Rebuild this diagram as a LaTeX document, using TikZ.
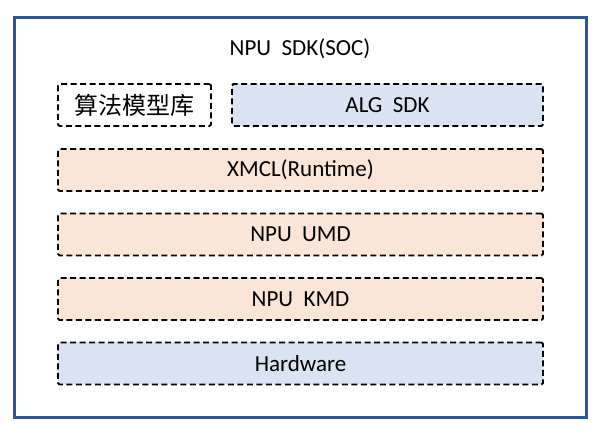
\documentclass[tikz,border=0pt]{standalone}
\usepackage{fontspec}
\setmainfont{Carlito}
\newfontfamily\cjk{Noto Sans CJK SC}
\usetikzlibrary{positioning}

\definecolor{layerblue}{HTML}{DAE3F3}
\definecolor{layerorange}{HTML}{FBE5D6}
\definecolor{frameblue}{HTML}{2F5597}

\begin{document}
\begin{tikzpicture}[x=1pt,y=-1pt,
  layer/.style={draw,dashed,dash pattern=on 6pt off 3.5pt,line width=1.8pt,rounded corners=1.5pt,
    minimum height=42pt,inner sep=0pt,font=\fontsize{23}{27}\selectfont},
  wide/.style={layer,minimum width=485pt}]
\useasboundingbox (0,0) rectangle (608,435);
\draw[frameblue,line width=3pt] (14,18) rectangle (586,418);
\node[font=\fontsize{23}{27}\selectfont] (soc) at (300,49) {NPU~~SDK(SOC)};

\node[layer,minimum width=153pt] (models) at (134.5,105) {\cjk\fontsize{24}{28}\selectfont 算法模型库};
\node[layer,fill=layerblue,minimum width=311pt] (alg) at (387.5,105) {ALG~~SDK};
\node[wide,fill=layerorange] (xmcl) at (300.5,170) {XMCL(Runtime)};
\node[wide,fill=layerorange,below=20.7pt of xmcl] (umd) {NPU~~UMD};
\node[wide,fill=layerorange,below=20.7pt of umd] (kmd) {NPU~~KMD};
\node[wide,fill=layerblue,below=20.7pt of kmd] (hw) {Hardware};
\end{tikzpicture}
\end{document}
